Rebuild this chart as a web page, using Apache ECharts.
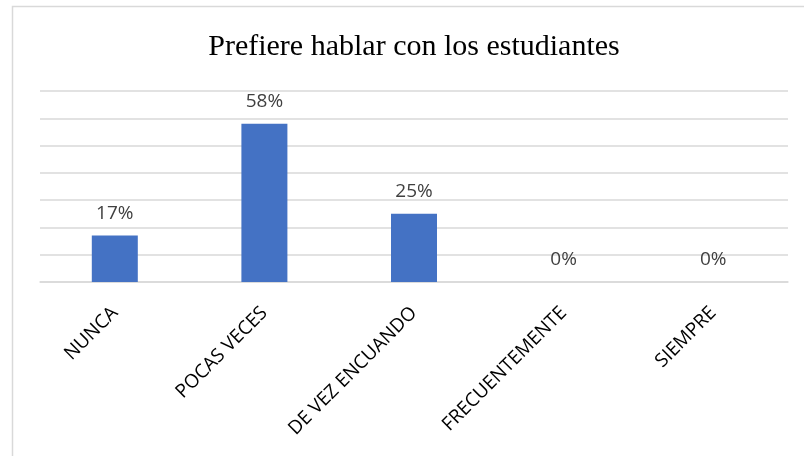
<!DOCTYPE html>
<html>
<head>
<meta charset="utf-8">
<script src="https://cdn.jsdelivr.net/npm/echarts@6/dist/echarts.min.js"></script>
<style>
  html, body { margin: 0; padding: 0; background: #fff; }
  #chart { width: 804px; height: 456px; }
</style>
</head>
<body>
<div id="chart"></div>
<script>
// categorías y porcentajes
const categories = ['NUNCA', 'POCAS VECES', 'DE VEZ ENCUANDO', 'FRECUENTEMENTE', 'SIEMPRE']
const percentValues = [17, 58, 25, 0, 0]
const chartTitle = 'Prefiere hablar con los estudiantes'

const chart = echarts.init(document.getElementById('chart'))

chart.setOption({
  backgroundColor: '#fff',
  animation: false,
  title: {
    text: chartTitle,
    left: 409,
    top: 27,
    textAlign: 'center',
    textStyle: {
      fontFamily: 'Liberation Serif',
      fontWeight: 'normal',
      fontSize: 30,
      color: '#000'
    }
  },
  // borde del área del gráfico
  graphic: [
    {
      type: 'rect',
      silent: true,
      shape: { x: 12.5, y: 6.5, width: 820, height: 470 },
      style: { fill: 'none', stroke: '#d9d9d9', lineWidth: 1.5 }
    }
  ],
  grid: { left: 40, right: 16, top: 91, bottom: 174 },
  xAxis: {
    type: 'category',
    data: categories,
    axisTick: { show: false },
    axisLine: { lineStyle: { color: '#d9d9d9', width: 1.5 } },
    axisLabel: {
      rotate: 45,
      interval: 0,
      margin: 28,
      color: '#000',
      fontFamily: 'Open Sans',
      fontSize: 19
    }
  },
  yAxis: {
    type: 'value',
    min: 0,
    max: 70,
    interval: 10,
    axisLabel: { show: false },
    axisLine: { show: false },
    axisTick: { show: false },
    splitLine: { lineStyle: { color: '#d9d9d9', width: 1.5 } }
  },
  series: [
    {
      type: 'bar',
      data: percentValues,
      barWidth: 46,
      itemStyle: { color: '#4472c4' },
      label: {
        show: true,
        position: 'top',
        distance: 13,
        formatter: p => p.value + '%',
        color: '#404040',
        fontFamily: 'Open Sans',
        fontSize: 19
      }
    }
  ]
})
</script>
</body>
</html>
